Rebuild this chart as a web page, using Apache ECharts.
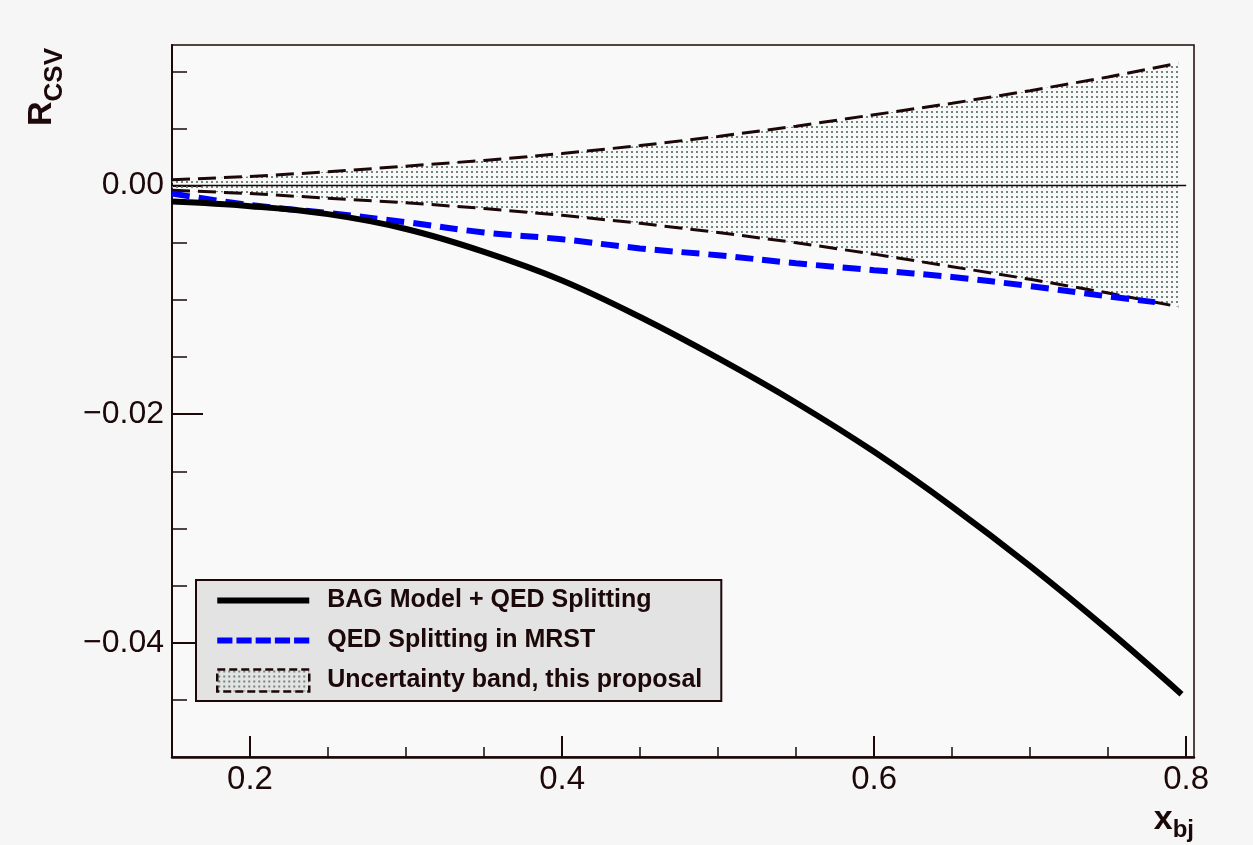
<!DOCTYPE html>
<html>
<head>
<meta charset="utf-8">
<script src="https://cdn.jsdelivr.net/npm/echarts@6/dist/echarts.min.js"></script>
<style>
  html, body { margin: 0; padding: 0; background: #f6f6f6; }
  #chart { width: 1253px; height: 845px; }
</style>
</head>
<body>
<div id="chart"></div>
<script>
// Axis ticks and labels
const xMajorTicks = [0.2, 0.4, 0.6, 0.8];
const xMinorTicks = [0.15, 0.2, 0.25, 0.3, 0.35, 0.4, 0.45, 0.5, 0.55, 0.6, 0.65, 0.7, 0.75, 0.8];
const yMajorTicks = [-0.04, -0.02, 0];
const yMinorTicks = [-0.045, -0.04, -0.035, -0.03, -0.025, -0.02, -0.015, -0.01, -0.005, 0, 0.005, 0.01];

// Uncertainty band (upper / lower edges)
const bandX     = [0.15, 0.20, 0.25, 0.30, 0.35, 0.40, 0.45, 0.50, 0.55, 0.60, 0.65, 0.70, 0.75, 0.795];
const bandUpper = [0.0005, 0.0008, 0.0012, 0.0017, 0.0022, 0.0028, 0.0035, 0.0043, 0.0052, 0.0062, 0.0072, 0.0083, 0.0095, 0.0107];
const bandLower = [-0.0004, -0.0007, -0.0011, -0.0015, -0.0020, -0.0026, -0.0033, -0.0041, -0.0050, -0.0060, -0.0071, -0.0082, -0.0094, -0.0106];

// QED splitting in MRST
const mrstX = [0.15, 0.20, 0.25, 0.30, 0.35, 0.40, 0.45, 0.50, 0.55, 0.60, 0.65, 0.70, 0.75, 0.78];
const mrstY = [-0.0007, -0.0017, -0.0024, -0.0032, -0.0041, -0.0047, -0.0055, -0.0061, -0.0068, -0.0074, -0.0080, -0.0088, -0.0097, -0.0102];

// Bag model + QED splitting
const bagX = [0.15, 0.20, 0.25, 0.30, 0.35, 0.40, 0.45, 0.50, 0.55, 0.60, 0.65, 0.70, 0.75, 0.797];
const bagY = [-0.0014, -0.0018, -0.0025, -0.0038, -0.0058, -0.0083, -0.0115, -0.0151, -0.0190, -0.0233, -0.0281, -0.0333, -0.0389, -0.0445];

// Reference line at zero
const zeroX = [0.15, 0.8];
const zeroY = [0, 0];

const NAME_BAG = 'BAG Model + QED Splitting';
const NAME_MRST = 'QED Splitting in MRST';
const NAME_BAND = 'Uncertainty band, this proposal';

const INK = '#1c0808';
const FONT = '"Liberation Sans", Arial, Helvetica, sans-serif';

const pairs = (xs, ys) => xs.map((x, i) => [x, ys[i]]);

// dotted fill for the band
function dotPattern() {
  const c = document.createElement('canvas');
  c.width = 5; c.height = 5;
  const ctx = c.getContext('2d');
  ctx.fillStyle = '#6f857d';
  ctx.fillRect(1, 1, 2, 2);
  return { image: c, repeat: 'repeat' };
}
const bandFill = dotPattern();

// band polygon: upper edge left-to-right, then lower edge right-to-left
function renderBand(params, api) {
  if (params.dataIndexInside !== 0) return null;
  const n = params.dataInsideLength;
  const pts = [];
  for (let i = 0; i < n; i++) pts.push(api.coord([api.value(0, i), api.value(2, i)]));
  for (let i = n - 1; i >= 0; i--) pts.push(api.coord([api.value(0, i), api.value(1, i)]));
  return {
    type: 'polygon',
    shape: { points: pts },
    style: { fill: bandFill, stroke: null },
    silent: true
  };
}

const chart = echarts.init(document.getElementById('chart'), null, { renderer: 'canvas' });

const gridBox = { left: 172, right: 59, top: 45, bottom: 88 };

const option = {
  animation: false,
  backgroundColor: '#f6f6f6',
  grid: [
    Object.assign({ show: true, backgroundColor: '#f9f9f9', borderColor: INK, borderWidth: 1.5 }, gridBox),
    Object.assign({ show: false }, gridBox)
  ],
  xAxis: [
    {
      type: 'value', gridIndex: 0, min: 0.15, max: 0.805,
      axisLine: { show: true, onZero: false, lineStyle: { color: INK, width: 2.5 } },
      axisTick: { show: true, inside: true, length: 10, customValues: xMinorTicks, lineStyle: { color: INK, width: 1.5 } },
      axisLabel: { show: false },
      splitLine: { show: false }
    },
    {
      type: 'value', gridIndex: 1, min: 0.15, max: 0.805,
      axisLine: { show: false, onZero: false },
      axisTick: { show: true, inside: true, length: 21, customValues: xMajorTicks, lineStyle: { color: INK, width: 2 } },
      axisLabel: {
        show: true, customValues: xMajorTicks, margin: 6,
        formatter: v => v.toFixed(1),
        color: INK, fontSize: 33, fontFamily: FONT
      },
      splitLine: { show: false },
      name: '{x|x}{s|bj}',
      nameLocation: 'end',
      nameGap: 0,
      nameTextStyle: {
        align: 'right', verticalAlign: 'top', padding: [46, 0, 0, 0],
        rich: {
          x: { fontSize: 34, fontWeight: 'bold', fontFamily: FONT, color: INK, lineHeight: 34, verticalAlign: 'top' },
          s: { fontSize: 24, fontWeight: 'bold', fontFamily: FONT, color: INK, lineHeight: 24, verticalAlign: 'top', padding: [15, 0, 0, 0] }
        }
      }
    }
  ],
  yAxis: [
    {
      type: 'value', gridIndex: 0, min: -0.05, max: 0.0123,
      axisLine: { show: true, onZero: false, lineStyle: { color: INK, width: 2 } },
      axisTick: { show: true, inside: true, length: 15, customValues: yMinorTicks, lineStyle: { color: INK, width: 1.5 } },
      axisLabel: { show: false },
      splitLine: { show: false }
    },
    {
      type: 'value', gridIndex: 1, min: -0.05, max: 0.0123,
      axisLine: { show: false, onZero: false },
      axisTick: { show: true, inside: true, length: 31, customValues: yMajorTicks, lineStyle: { color: INK, width: 2 } },
      axisLabel: {
        show: true, customValues: yMajorTicks, margin: 8,
        formatter: v => (Math.abs(v) < 1e-12 ? '0.00' : '\u2212' + Math.abs(v).toFixed(2)),
        color: INK, fontSize: 32, fontFamily: FONT, padding: [6, 0, 0, 0]
      },
      splitLine: { show: false },
      name: '{r|R}{s|CSV}',
      nameLocation: 'end',
      nameRotate: 90,
      nameGap: -3,
      nameTextStyle: {
        align: 'right', verticalAlign: 'bottom', padding: [0, 0, 113, 0],
        rich: {
          r: { fontSize: 34, fontWeight: 'bold', fontFamily: FONT, color: INK, lineHeight: 34, verticalAlign: 'top' },
          s: { fontSize: 26, fontWeight: 'bold', fontFamily: FONT, color: INK, lineHeight: 26, verticalAlign: 'top', padding: [17, 0, 0, 0] }
        }
      }
    }
  ],
  legend: {
    orient: 'vertical',
    left: 196, top: 580,
    backgroundColor: '#e3e3e3',
    borderColor: INK, borderWidth: 2, borderRadius: 0,
    padding: [8, 19, 8, 20],
    itemWidth: 92, itemHeight: 22, itemGap: 15,
    selectedMode: false,
    textStyle: { fontSize: 25, fontWeight: 'bold', fontFamily: FONT, color: INK, lineHeight: 24, padding: [0, 0, 0, 13] },
    data: [
      { name: NAME_BAG, icon: 'path://M0,0h92v6h-92z', itemStyle: { color: '#000000', borderWidth: 0 } },
      { name: NAME_MRST, icon: 'path://M0,0h15v6h-15zM19,0h15v6h-15zM38,0h15v6h-15zM57,0h15v6h-15zM76,0h15v6h-15z', itemStyle: { color: '#0000ff', borderWidth: 0 } },
      { name: NAME_BAND, icon: 'rect', itemStyle: { color: bandFill, borderColor: INK, borderWidth: 2.5, borderType: [8, 4] } }
    ]
  },
  series: [
    {
      name: NAME_BAND, type: 'custom', xAxisIndex: 0, yAxisIndex: 0,
      data: bandX.map((x, i) => [x, bandLower[i], bandUpper[i]]),
      encode: { x: 0, y: [1, 2] },
      renderItem: renderBand,
      itemStyle: { color: '#b8c2be' },
      silent: true, z: 1
    },
    {
      name: 'band-upper', type: 'line', xAxisIndex: 0, yAxisIndex: 0,
      data: pairs(bandX, bandUpper),
      symbol: 'none', silent: true, z: 2,
      lineStyle: { color: INK, width: 3, type: [18, 8] }
    },
    {
      name: 'band-lower', type: 'line', xAxisIndex: 0, yAxisIndex: 0,
      data: pairs(bandX, bandLower),
      symbol: 'none', silent: true, z: 2,
      lineStyle: { color: INK, width: 3, type: [18, 8] }
    },
    {
      name: 'zero', type: 'line', xAxisIndex: 0, yAxisIndex: 0,
      data: pairs(zeroX, zeroY),
      symbol: 'none', silent: true, z: 3,
      lineStyle: { color: INK, width: 1.5 }
    },
    {
      name: NAME_MRST, type: 'line', xAxisIndex: 0, yAxisIndex: 0,
      data: pairs(mrstX, mrstY),
      symbol: 'none', smooth: 0.4, silent: true, z: 4,
      itemStyle: { color: '#0000ff' },
      lineStyle: { color: '#0000ff', width: 6, type: [18, 9] }
    },
    {
      name: NAME_BAG, type: 'line', xAxisIndex: 0, yAxisIndex: 0,
      data: pairs(bagX, bagY),
      symbol: 'none', smooth: 0.4, silent: true, z: 5,
      itemStyle: { color: '#000000' },
      lineStyle: { color: '#000000', width: 6 }
    }
  ]
};

chart.setOption(option);
</script>
</body>
</html>
